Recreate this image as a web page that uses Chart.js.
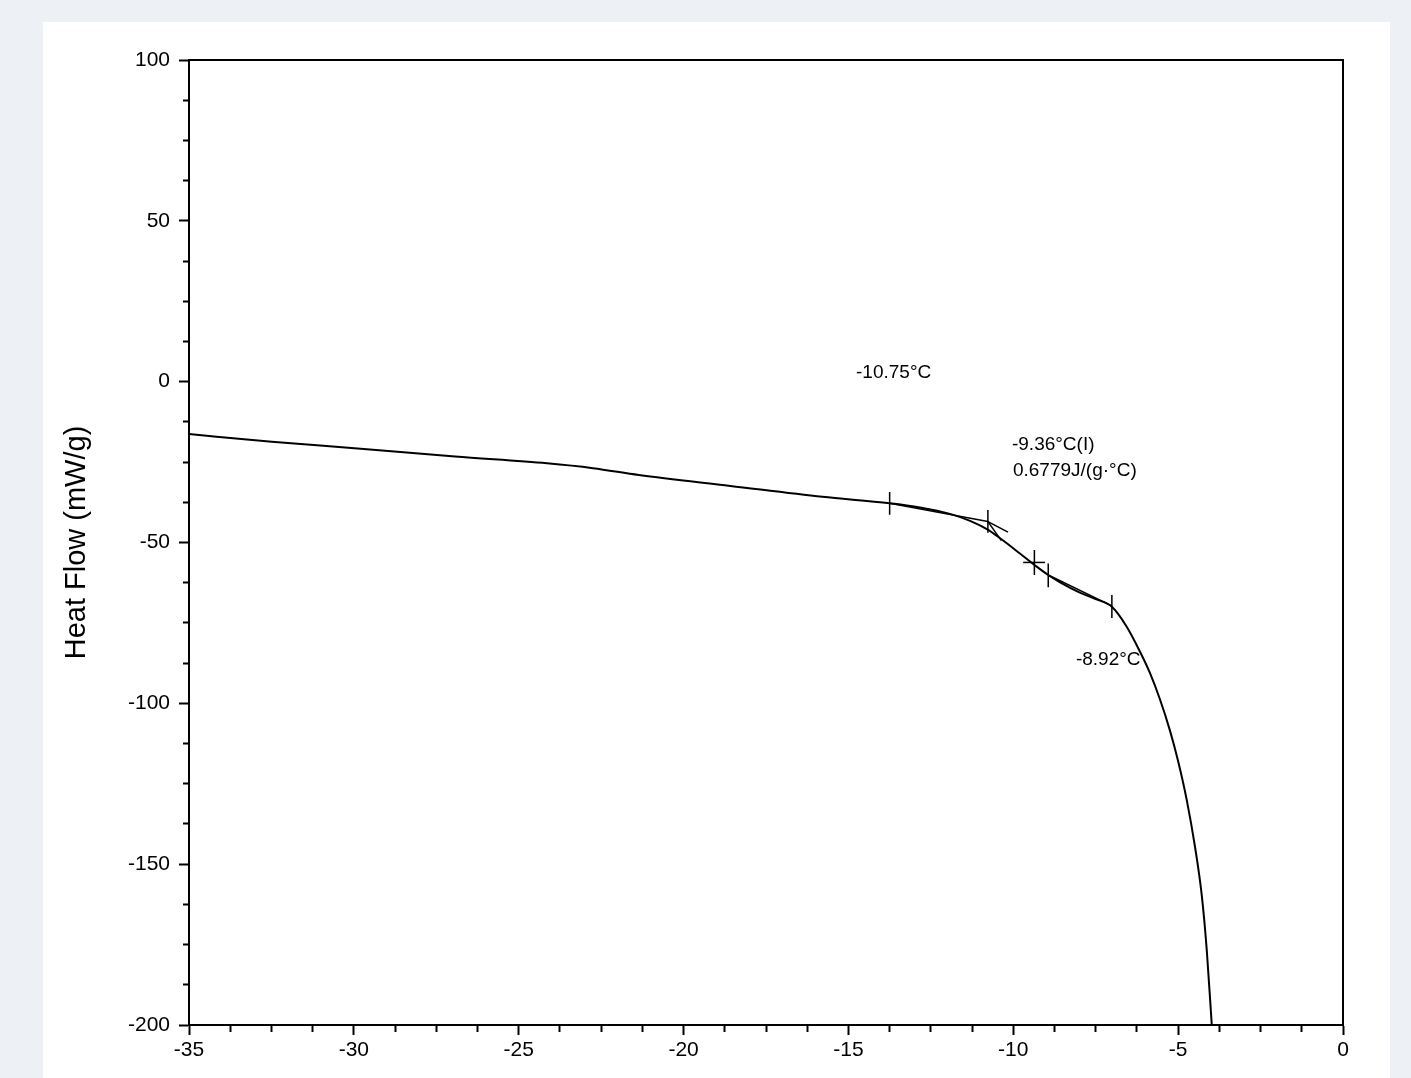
<!DOCTYPE html>
<html>
<head>
<meta charset="utf-8">
<title>Heat Flow</title>
<script src="https://cdn.jsdelivr.net/npm/chart.js@4.4.1/dist/chart.umd.min.js"></script>
<style>
  html, body { margin: 0; padding: 0; background: #edf0f5; }
  #panel { position: absolute; left: 43px; top: 22px; width: 1347px; height: 1056px; background: #fff; }
</style>
</head>
<body>
<div id="panel"><canvas id="chartHeatFlow"></canvas></div>
<script>
/* DSC heat flow trace with glass transition analysis marks */

// main trace: temperature (°C) vs heat flow (mW/g)
const tempC = [
  -35, -32.49, -29.70, -26.93, -24.14, -22.75, -21.36, -18.58, -15.79, -13.75,
  -12.83, -11.92, -11.31, -10.76, -10.40, -9.80, -9.29, -8.94, -8.58, -7.98,
  -7.50, -7.01, -6.56, -6.16, -5.85, -5.55, -5.25, -5.00, -4.74, -4.49,
  -4.28, -4.13, -3.98
];
const heatFlow = [
  -16.3, -18.7, -20.9, -23.3, -25.4, -26.9, -29.0, -32.4, -35.8, -37.8,
  -39.1, -41.1, -43.3, -46.1, -48.7, -53.4, -57.5, -60.1, -62.4, -65.6,
  -67.6, -70.0, -76.2, -83.9, -90.7, -98.8, -108.4, -118.0, -130.0, -144.5,
  -160.0, -177.0, -200
];

// vertical analysis marks
const markX      = [-13.75, -10.77, -9.36, -8.94, -7.01];
const markTop    = [-34.3, -39.9, -52.3, -56.5, -66.3];
const markBottom = [-41.4, -47.0, -60.1, -63.9, -73.5];

// tangent / construction segments: [start, end]
const segX = [[-13.75, -10.77], [-10.77, -10.16], [-10.77, -10.36], [-9.70, -9.04], [-8.94, -7.01]];
const segY = [[-37.8, -43.5],   [-43.5, -46.8],   [-43.5, -49.4],   [-56.2, -56.2], [-60.1, -69.7]];

// result labels
const noteText = ["-10.75°C", "-9.36°C(I)", "0.6779J/(g·°C)", "-8.92°C"];
const noteX    = [-14.77, -10.04, -10.01, -8.10];
const noteY    = [2.7, -19.6, -27.8, -86.5];

// axes
const xMajor = [-35, -30, -25, -20, -15, -10, -5, 0];
const yMajor = [100, 50, 0, -50, -100, -150, -200];
const yTitle = "Heat Flow (mW/g)";

const FONT = "'Liberation Sans', Arial, sans-serif";

function isMajor(list, v) {
  return list.some(m => Math.abs(m - v) < 1e-6);
}

const notesPlugin = {
  id: "notes",
  afterDatasetsDraw(chart) {
    const { ctx, scales: { x, y } } = chart;
    ctx.save();
    ctx.font = "19px " + FONT;
    ctx.fillStyle = "#000";
    ctx.textAlign = "left";
    ctx.textBaseline = "middle";
    noteText.forEach((t, i) => {
      ctx.fillText(t, x.getPixelForValue(noteX[i]), y.getPixelForValue(noteY[i]));
    });
    ctx.restore();
  }
};

const datasets = [{
  data: tempC.map((t, i) => ({ x: t, y: heatFlow[i] })),
  borderColor: "#000",
  borderWidth: 2,
  pointRadius: 0,
  cubicInterpolationMode: "monotone"
}];

markX.forEach((mx, i) => {
  datasets.push({
    data: [{ x: mx, y: markTop[i] }, { x: mx, y: markBottom[i] }],
    borderColor: "#000", borderWidth: 1.5, pointRadius: 0
  });
});

segX.forEach((sx, i) => {
  datasets.push({
    data: [{ x: sx[0], y: segY[i][0] }, { x: sx[1], y: segY[i][1] }],
    borderColor: "#000", borderWidth: 1.5, pointRadius: 0
  });
});

const frameAxis = (position) => ({
  type: "linear",
  position,
  display: true,
  ticks: { display: false },
  grid: { display: false, drawTicks: false },
  border: { display: true, color: "#000", width: 2 },
  afterFit: (s) => { if (position === "top") s.height = 0; else s.width = 0; }
});

new Chart(document.getElementById("chartHeatFlow"), {
  type: "line",
  data: { datasets },
  plugins: [notesPlugin],
  options: {
    responsive: true,
    maintainAspectRatio: false,
    animation: false,
    layout: { padding: { left: 0, top: 38, right: 47, bottom: 0 } },
    plugins: { legend: { display: false }, tooltip: { enabled: false } },
    scales: {
      x: {
        type: "linear",
        position: "bottom",
        min: -35, max: 0,
        ticks: {
          stepSize: 1.25, autoSkip: false, maxRotation: 0, padding: 3,
          color: "#000", font: { family: FONT, size: 21 },
          callback: (v) => isMajor(xMajor, v) ? String(Math.round(v)) : ""
        },
        grid: {
          drawOnChartArea: false, tickLength: 10, tickWidth: 2, tickColor: "#000",
          tickBorderDash: (c) => (c.tick && isMajor(xMajor, c.tick.value)) ? [] : [6, 40]
        },
        border: { color: "#000", width: 2 },
        afterFit: (s) => { s.height = 53; }
      },
      y: {
        type: "linear",
        position: "left",
        min: -200, max: 100,
        ticks: {
          stepSize: 12.5, autoSkip: false, padding: 9,
          color: "#000", font: { family: FONT, size: 21 },
          callback: (v) => isMajor(yMajor, v) ? String(Math.round(v)) : ""
        },
        grid: {
          drawOnChartArea: false, tickLength: 10, tickWidth: 2, tickColor: "#000",
          tickBorderDash: (c) => (c.tick && isMajor(yMajor, c.tick.value)) ? [] : [0, 4, 20, 0]
        },
        border: { color: "#000", width: 2 },
        title: {
          display: true, text: yTitle, color: "#000",
          font: { family: FONT, size: 29 },
          padding: { top: 17, bottom: 0 }
        },
        afterFit: (s) => { s.width = 146; }
      },
      x2: frameAxis("top"),
      y2: frameAxis("right")
    }
  }
});
</script>
</body>
</html>
